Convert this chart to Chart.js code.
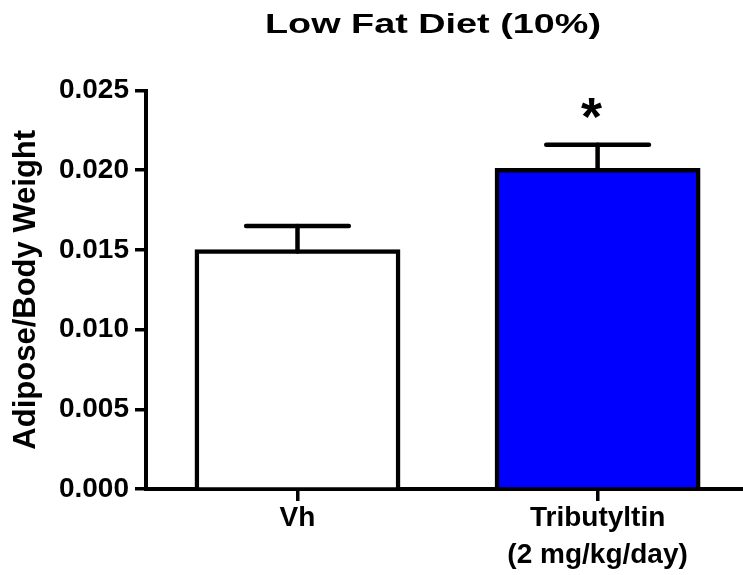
<!DOCTYPE html>
<html>
<head>
<meta charset="utf-8">
<script src="https://cdn.jsdelivr.net/npm/chart.js@4"></script>
<style>
  html, body { margin: 0; padding: 0; background: #fff; }
  #wrap { width: 743px; height: 575px; }
</style>
</head>
<body>
<div id="wrap"><canvas id="c" width="743" height="575"></canvas></div>
<script>
// Groups and their two-line labels
const categories = [["Vh"], ["Tributyltin", "(2 mg/kg/day)"]];
// Mean adipose/body weight ratio per group
const meanValues = [0.0149, 0.0200];
// Standard error of the mean (drawn upward only)
const semValues = [0.0016, 0.0016];
// Significance marks above the error bars
const significance = ["", "*"];
// Y axis ticks
const yTicks = [0, 0.005, 0.010, 0.015, 0.020, 0.025];
const chartTitle = "Low Fat Diet (10%)";
const yTitle = "Adipose/Body Weight";

const FONT = "'Liberation Sans', Arial, Helvetica, sans-serif";
const fills = ["#FFFFFF", "#0000FF"];

// Upper-only error bars with caps, plus significance marks
const errorBarPlugin = {
  id: 'errorBars',
  afterDatasetsDraw(chart) {
    const { ctx, scales: { y } } = chart;
    const meta = chart.getDatasetMeta(0);
    ctx.save();
    ctx.strokeStyle = '#000';
    ctx.lineWidth = 4.5;
    ctx.lineCap = 'round';
    meta.data.forEach((bar, i) => {
      const x = bar.x;
      const yBar = y.getPixelForValue(meanValues[i]);
      const yTop = y.getPixelForValue(meanValues[i] + semValues[i]);
      const half = bar.width * 0.255;
      ctx.beginPath();
      ctx.moveTo(x, yBar);
      ctx.lineTo(x, yTop);
      ctx.stroke();
      ctx.beginPath();
      ctx.moveTo(x - half, yTop);
      ctx.lineTo(x + half, yTop);
      ctx.stroke();
      if (significance[i]) {
        ctx.fillStyle = '#000';
        ctx.font = 'bold 54px ' + FONT;
        ctx.textAlign = 'center';
        ctx.textBaseline = 'alphabetic';
        ctx.fillText(significance[i], x - 6, yTop - 10);
      }
    });
    ctx.restore();
  }
};

// Wide bold heading above the plot
const headingPlugin = {
  id: 'heading',
  afterDraw(chart) {
    const { ctx } = chart;
    ctx.save();
    ctx.fillStyle = '#000';
    ctx.font = 'bold 28px ' + FONT;
    ctx.textAlign = 'center';
    ctx.textBaseline = 'alphabetic';
    ctx.translate(433, 33);
    ctx.scale(1.35, 1);
    ctx.fillText(chartTitle, 0, 0);
    ctx.restore();
  }
};

new Chart(document.getElementById('c'), {
  type: 'bar',
  data: {
    datasets: [{
      data: meanValues.map((v, i) => ({ x: i, y: v })),
      backgroundColor: fills,
      borderColor: '#000',
      borderWidth: 4.5,
      inflateAmount: 2.25,
      barPercentage: 0.671,
      categoryPercentage: 1
    }]
  },
  plugins: [errorBarPlugin, headingPlugin],
  options: {
    responsive: false,
    animation: false,
    devicePixelRatio: 1,
    layout: { padding: { left: 8, top: 90.5, right: 0, bottom: 0 } },
    plugins: {
      legend: { display: false },
      tooltip: { enabled: false },
      title: { display: false }
    },
    scales: {
      x: {
        type: 'linear',
        offset: false,
        z: 1,
        min: -0.5048,
        max: 1.4845,
        afterBuildTicks(scale) {
          scale.ticks = categories.map((_, i) => ({ value: i }));
        },
        afterFit(scale) { scale.height = 86; },
        ticks: {
          autoSkip: false,
          maxRotation: 0,
          padding: -1,
          color: '#000',
          font: { family: FONT, size: 28, weight: 'bold', lineHeight: 1.32 },
          callback: (v) => categories[v]
        },
        grid: {
          offset: false,
          drawOnChartArea: false,
          drawTicks: true,
          tickLength: 12,
          lineWidth: 3.5,
          color: '#000'
        },
        border: { display: true, color: '#000', width: 4 }
      },
      y: {
        min: 0,
        max: 0.025,
        afterBuildTicks(scale) {
          scale.ticks = yTicks.map(v => ({ value: v }));
        },
        afterFit(scale) { scale.width = 138; },
        ticks: {
          padding: 6,
          color: '#000',
          font: { family: FONT, size: 28, weight: 'bold' },
          callback: (v) => Number(v).toFixed(3)
        },
        grid: {
          drawOnChartArea: false,
          drawTicks: true,
          tickLength: 11,
          lineWidth: 3.5,
          color: '#000'
        },
        border: { display: true, color: '#000', width: 4 },
        title: {
          display: true,
          text: yTitle,
          color: '#000',
          font: { family: FONT, size: 31, weight: 'bold', lineHeight: 1.2 },
          padding: { top: 0, bottom: 0 }
        }
      }
    }
  }
});
</script>
</body>
</html>
